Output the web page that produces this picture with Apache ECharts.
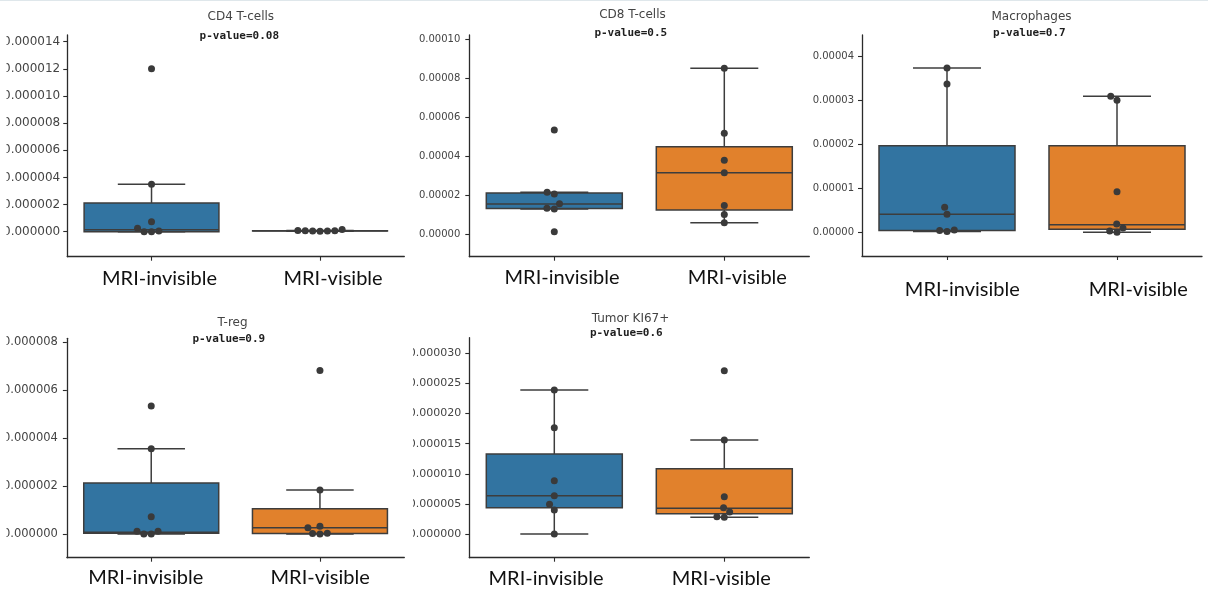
<!DOCTYPE html>
<html>
<head>
<meta charset="utf-8">
<script src="https://cdn.jsdelivr.net/npm/echarts@6/dist/echarts.min.js"></script>
<style>
  html, body { margin: 0; padding: 0; background: #ffffff; }
  #chart { width: 1208px; height: 592px; }
</style>
</head>
<body>
<div id="chart"></div>
<script>
// Groups compared in every panel
const groups = ['MRI-invisible', 'MRI-visible'];

// CD4 T-cells
const cd4Invisible = [12.0e-6, 3.5e-6, 0.74e-6, 0.25e-6, 0.05e-6, 0, 0];
const cd4Visible = [0.17e-6, 0.08e-6, 0.07e-6, 0.07e-6, 0.06e-6, 0.05e-6, 0.04e-6];
const cd4BoxInvisible = [0, 0, 0.15e-6, 2.12e-6, 3.5e-6];      // [low whisker, Q1, median, Q3, high whisker]
const cd4BoxVisible = [0.04e-6, 0.055e-6, 0.07e-6, 0.075e-6, 0.08e-6];
const cd4Ticks = [0, 2e-6, 4e-6, 6e-6, 8e-6, 10e-6, 12e-6, 14e-6];

// CD8 T-cells
const cd8Invisible = [5.34e-5, 2.15e-5, 2.06e-5, 1.57e-5, 1.33e-5, 1.30e-5, 0.13e-5];
const cd8Visible = [8.5e-5, 5.17e-5, 3.79e-5, 3.15e-5, 1.48e-5, 1.02e-5, 0.59e-5];
const cd8BoxInvisible = [1.30e-5, 1.315e-5, 1.55e-5, 2.11e-5, 2.15e-5];
const cd8BoxVisible = [0.59e-5, 1.25e-5, 3.15e-5, 4.48e-5, 8.5e-5];
const cd8Ticks = [0, 2e-5, 4e-5, 6e-5, 8e-5, 10e-5];

// Macrophages
const macInvisible = [3.74e-5, 3.38e-5, 0.57e-5, 0.41e-5, 0.05e-5, 0.04e-5, 0.02e-5];
const macVisible = [3.10e-5, 3.01e-5, 0.925e-5, 0.19e-5, 0.10e-5, 0.03e-5, 0];
const macBoxInvisible = [0.02e-5, 0.04e-5, 0.41e-5, 1.97e-5, 3.74e-5];
const macBoxVisible = [0, 0.07e-5, 0.17e-5, 1.97e-5, 3.10e-5];
const macTicks = [0, 1e-5, 2e-5, 3e-5, 4e-5];

// T-reg
const tregInvisible = [5.34e-6, 3.56e-6, 0.72e-6, 0.12e-6, 0.12e-6, 0, 0];
const tregVisible = [6.82e-6, 1.84e-6, 0.32e-6, 0.26e-6, 0.03e-6, 0.02e-6, 0];
const tregBoxInvisible = [0, 0.03e-6, 0.07e-6, 2.13e-6, 3.56e-6];
const tregBoxVisible = [0, 0.02e-6, 0.26e-6, 1.05e-6, 1.84e-6];
const tregTicks = [0, 2e-6, 4e-6, 6e-6, 8e-6];

// Tumor KI67+
const kiInvisible = [23.9e-6, 17.66e-6, 8.86e-6, 6.37e-6, 4.93e-6, 3.99e-6, 0];
const kiVisible = [27.1e-6, 15.6e-6, 6.2e-6, 4.35e-6, 3.65e-6, 2.85e-6, 2.8e-6];
const kiBoxInvisible = [0, 4.37e-6, 6.37e-6, 13.29e-6, 23.9e-6];
const kiBoxVisible = [2.8e-6, 3.37e-6, 4.26e-6, 10.85e-6, 15.6e-6];
const kiTicks = [0, 5e-6, 10e-6, 15e-6, 20e-6, 25e-6, 30e-6];

// Panel layout and labelling
const panels = [
  { title: 'CD4 T-cells', pValue: 'p-value=0.08', points: [cd4Invisible, cd4Visible], boxes: [cd4BoxInvisible, cd4BoxVisible],
    ticks: cd4Ticks, digits: 6, grid: { left: 64.3, top: 35, width: 340, height: 221.7 }, yMin: -1.842e-6, yMax: 14.496e-6,
    tickFont: 12, tickMargin: 7, titleAt: [240.8, 16.7], pAt: [239.3, 35.7], catShift: [8, 13], catMargin: 11.8 },
  { title: 'CD8 T-cells', pValue: 'p-value=0.5', points: [cd8Invisible, cd8Visible], boxes: [cd8BoxInvisible, cd8BoxVisible],
    ticks: cd8Ticks, digits: 5, grid: { left: 469.3, top: 35, width: 340, height: 221.7 }, yMin: -1.147e-5, yMax: 10.205e-5,
    tickFont: 10, tickMargin: 9, titleAt: [632.5, 15], pAt: [630.8, 33.3], catShift: [7.7, 13], catMargin: 11.3 },
  { title: 'Macrophages', pValue: 'p-value=0.7', points: [macInvisible, macVisible], boxes: [macBoxInvisible, macBoxVisible],
    ticks: macTicks, digits: 5, grid: { left: 862, top: 35, width: 340, height: 221 }, yMin: -0.54e-5, yMax: 4.494e-5,
    tickFont: 10, tickMargin: 8, titleAt: [1031.5, 17.3], pAt: [1029.3, 33.3], catShift: [15.3, 21.3], catMargin: 24 },
  { title: 'T-reg', pValue: 'p-value=0.9', points: [tregInvisible, tregVisible], boxes: [tregBoxInvisible, tregBoxVisible],
    ticks: tregTicks, digits: 6, grid: { left: 64.3, top: 338.3, width: 340, height: 219.4 }, yMin: -0.989e-6, yMax: 8.168e-6,
    tickFont: 11.5, tickMargin: 9, titleAt: [232.5, 322.7], pAt: [228.8, 339.3], catShift: [-5.5, 0.2], catMargin: 9.8 },
  { title: 'Tumor KI67+', pValue: 'p-value=0.6', points: [kiInvisible, kiVisible], boxes: [kiBoxInvisible, kiBoxVisible],
    ticks: kiTicks, digits: 6, grid: { left: 469.3, top: 337.7, width: 340, height: 220 }, yMin: -3.937e-6, yMax: 32.6e-6,
    tickFont: 11, tickMargin: 8, titleAt: [630.5, 319.3], pAt: [626.3, 333.3], catShift: [-8.3, -3], catMargin: 10.6 }
];

const boxFill = ['#3274a1', '#e1812c'];
const edge = '#3d3d3d';
const spine = '#2b2b2b';
const dotColor = '#3a3a3a';
const dotSize = 7;
const dotGap = 7.4;

function catLabelStyle(dx) {
  return {
    fontFamily: 'Lato', fontSize: 20, color: '#111111',
    padding: dx >= 0 ? [0, 0, 0, 2 * dx] : [0, -2 * dx, 0, 0]
  };
}

// Box, whiskers, caps and median drawn through the grid's own coordinate system
function renderBox(params, api) {
  const i = api.value(0);
  const lo = api.value(1), q1 = api.value(2), med = api.value(3), q3 = api.value(4), hi = api.value(5);
  const x = api.coord([i, med])[0];
  const band = api.size([1, 0])[0];
  const half = band * 0.4, cap = band * 0.2;
  const y = v => api.coord([i, v])[1];
  const ls = { stroke: edge, lineWidth: 1.5 };
  return {
    type: 'group',
    children: [
      { type: 'line', shape: { x1: x, y1: y(q3), x2: x, y2: y(hi) }, style: ls },
      { type: 'line', shape: { x1: x, y1: y(lo), x2: x, y2: y(q1) }, style: ls },
      { type: 'line', shape: { x1: x - cap, y1: y(hi), x2: x + cap, y2: y(hi) }, style: ls },
      { type: 'line', shape: { x1: x - cap, y1: y(lo), x2: x + cap, y2: y(lo) }, style: ls },
      { type: 'rect', shape: { x: x - half, y: y(q3), width: 2 * half, height: Math.max(y(q1) - y(q3), 0.01) },
        style: { fill: boxFill[i], stroke: edge, lineWidth: 1.5 } },
      { type: 'line', shape: { x1: x - half, y1: y(med), x2: x + half, y2: y(med) }, style: ls }
    ]
  };
}

// Beeswarm: lowest value first, each point goes to the free spot nearest the centre
function swarmOffsets(ys, d) {
  const order = ys.map((_, i) => i).sort((a, b) => ys[b] - ys[a]);
  const placed = [];
  const off = new Array(ys.length).fill(0);
  for (const i of order) {
    const y = ys[i];
    const near = placed.filter(p => Math.abs(p.y - y) < d);
    const cands = [0];
    for (const p of near) {
      const dx = Math.sqrt(d * d - (p.y - y) * (p.y - y));
      cands.push(p.x - dx, p.x + dx);
    }
    cands.sort((a, b) => (Math.abs(a) - Math.abs(b)) || (a - b));
    for (const c of cands) {
      if (near.every(p => (p.x - c) * (p.x - c) + (p.y - y) * (p.y - y) >= d * d - 1e-6)) {
        off[i] = c;
        placed.push({ x: c, y });
        break;
      }
    }
  }
  return off;
}

const series = [];
panels.forEach((p, k) => {
  series.push({
    id: 'box' + k, type: 'custom', xAxisIndex: k, yAxisIndex: k, z: 2,
    renderItem: renderBox,
    encode: { x: 0, y: [1, 2, 3, 4, 5] },
    data: p.boxes.map((b, c) => [c].concat(b))
  });
  series.push({
    id: 'pts' + k, type: 'scatter', xAxisIndex: k, yAxisIndex: k, z: 3,
    symbol: 'circle', symbolSize: dotSize,
    itemStyle: { color: dotColor, opacity: 1 },
    data: p.points.flatMap((vals, c) => vals.map(v => ({ value: [c, v] })))
  });
});

const graphics = [
  { type: 'line', shape: { x1: 0, y1: 0.5, x2: 1208, y2: 0.5 }, style: { stroke: '#dfe7eb', lineWidth: 1 }, z: 100 }
];
panels.forEach(p => {
  graphics.push({ type: 'text', x: p.titleAt[0], y: p.titleAt[1], z: 100,
    style: { text: p.title, align: 'center', verticalAlign: 'middle', font: '12px "DejaVu Sans"', fill: '#444444' } });
  graphics.push({ type: 'text', x: p.pAt[0], y: p.pAt[1], z: 100,
    style: { text: p.pValue, align: 'center', verticalAlign: 'middle', font: 'bold 11px "DejaVu Sans Mono"', fill: '#1e1e1e' } });
});
// left margin trims the outer tick labels
graphics.push({ type: 'rect', shape: { x: 0, y: 28, width: 6.5, height: 238 }, style: { fill: '#ffffff' }, z: 90 });
graphics.push({ type: 'rect', shape: { x: 0, y: 330, width: 6.5, height: 222 }, style: { fill: '#ffffff' }, z: 90 });
graphics.push({ type: 'rect', shape: { x: 400, y: 340, width: 13, height: 205 }, style: { fill: '#ffffff' }, z: 90 });

const option = {
  animation: false,
  backgroundColor: '#ffffff',
  grid: panels.map(p => Object.assign({ containLabel: false }, p.grid)),
  xAxis: panels.map((p, k) => ({
    type: 'category', gridIndex: k, data: groups, boundaryGap: true, position: 'bottom',
    axisLine: { show: true, onZero: false, lineStyle: { color: spine, width: 1.3 } },
    axisTick: { show: true, alignWithLabel: true, length: 4, lineStyle: { color: spine, width: 1.1 } },
    axisLabel: {
      margin: p.catMargin, interval: 0,
      formatter: (v, i) => '{c' + i + '|' + v + '}',
      rich: { c0: catLabelStyle(p.catShift[0]), c1: catLabelStyle(p.catShift[1]) }
    },
    splitLine: { show: false }
  })),
  yAxis: panels.map((p, k) => ({
    type: 'value', gridIndex: k, min: p.yMin, max: p.yMax, position: 'left',
    axisLine: { show: true, onZero: false, lineStyle: { color: spine, width: 1.3 } },
    axisTick: { show: true, length: 4, customValues: p.ticks, lineStyle: { color: spine, width: 1.1 } },
    axisLabel: {
      customValues: p.ticks, formatter: v => Number(v).toFixed(p.digits),
      fontFamily: 'DejaVu Sans', fontSize: p.tickFont, color: '#444444', margin: p.tickMargin
    },
    splitLine: { show: false }
  })),
  series: series,
  graphic: graphics
};

const chart = echarts.init(document.getElementById('chart'), null, { renderer: 'canvas' });
chart.setOption(option);

// Spread the dots sideways in pixel space once the scales are known
const swarmed = panels.map((p, k) => {
  const data = [];
  p.points.forEach((vals, c) => {
    const ys = vals.map(v => chart.convertToPixel({ xAxisIndex: k, yAxisIndex: k }, [c, v])[1]);
    const offs = swarmOffsets(ys, dotGap);
    vals.forEach((v, j) => data.push({ value: [c, v], symbolOffset: [offs[j], 0] }));
  });
  return { id: 'pts' + k, data: data };
});
chart.setOption({ series: swarmed });
</script>
</body>
</html>
